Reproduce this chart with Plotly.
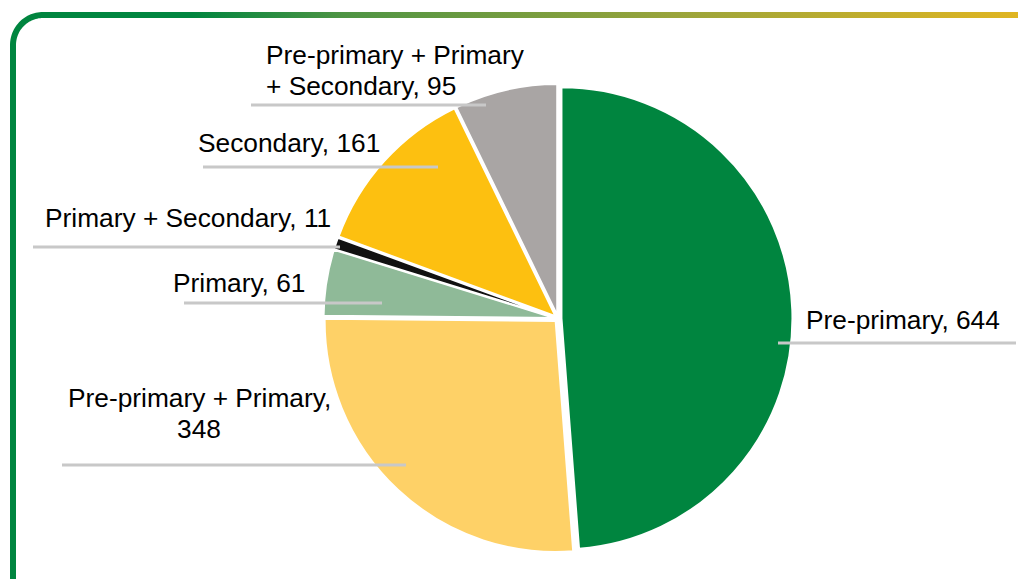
import textwrap
import numpy as np
import plotly.graph_objects as go

# Enrolment by level of education offered
categories = [
    "Pre-primary",
    "Pre-primary + Primary",
    "Primary",
    "Primary + Secondary",
    "Secondary",
    "Pre-primary + Primary + Secondary",
]
counts = [644, 348, 61, 11, 161, 95]
slice_colors = ["#00853F", "#FED167", "#8FBA98", "#111111", "#FDC010", "#A9A5A4"]

W, H = 1018, 579
CX, CY, R, PULL = 558, 318.5, 231, 0.015

# label placement in pixels: text x, first baseline, anchor, leader x0, leader x1, leader y
label_layout = [
    (806, 329, "left", 778, 1016, 343),
    (199, 407, "center", 62, 406, 465),
    (173, 292, "left", 184, 382, 303),
    (45, 227, "left", 33, 340, 247),
    (198, 152, "left", 203, 438, 167),
    (266, 64, "left", 251, 486, 105),
]
FONT = "Liberation Sans, Arial, sans-serif"
FSIZE = 26.3
LINE_PITCH = 31
WRAP_AT = 22

fig = go.Figure()

# rounded frame: left rule + top rule with a green-to-gold gradient
ro, ri = 33, 27
ccx, ccy = 43, 45
th = np.linspace(np.pi, 1.5 * np.pi, 30)
outer_x = [10] + list(ccx + ro * np.cos(th)) + [W + 2]
outer_y = [H + 5] + list(ccy + ro * np.sin(th)) + [12]
inner_x = [W + 2] + list(ccx + ri * np.cos(th[::-1])) + [16]
inner_y = [18] + list(ccy + ri * np.sin(th[::-1])) + [H + 5]
fig.add_trace(go.Scatter(
    x=outer_x + inner_x,
    y=outer_y + inner_y,
    mode="none",
    fill="toself",
    fillgradient=dict(
        type="horizontal",
        colorscale=[[0, "#00853F"], [0.18, "#00853F"], [0.33, "#4E9444"],
                    [0.66, "#9AA43B"], [1, "#E0B521"]],
    ),
    hoverinfo="skip",
    showlegend=False,
))

# pie
half = R * (1 + PULL)
fig.add_trace(go.Pie(
    labels=categories,
    values=counts,
    sort=False,
    direction="clockwise",
    rotation=0,
    pull=[PULL] * len(counts),
    marker=dict(colors=slice_colors, line=dict(color="white", width=2)),
    textinfo="none",
    hoverinfo="label+value",
    showlegend=False,
    domain=dict(
        x=[(CX - half) / W, (CX + half) / W],
        y=[(H - CY - half) / H, (H - CY + half) / H],
    ),
))

# data labels with leader lines
shapes, annotations = [], []
for cat, val, (tx, base, anchor, lx0, lx1, ly) in zip(categories, counts, label_layout):
    text = f"{cat}, {val}"
    if len(text) > WRAP_AT + 2:
        lines = textwrap.wrap(text, WRAP_AT, break_on_hyphens=False)
    else:
        lines = [text]
    for k, line in enumerate(lines):
        annotations.append(dict(
            x=tx, y=base + k * LINE_PITCH - 0.3465 * FSIZE,
            xref="x", yref="y", text=line, showarrow=False,
            xanchor=anchor, yanchor="middle", borderpad=0, borderwidth=0,
            font=dict(family=FONT, size=FSIZE, color="#000000"),
        ))
    shapes.append(dict(
        type="line", xref="x", yref="y", x0=lx0, x1=lx1, y0=ly, y1=ly,
        line=dict(color="#C8C8C8", width=3), layer="above",
    ))

fig.update_layout(
    width=W, height=H,
    margin=dict(l=0, r=0, t=0, b=0),
    paper_bgcolor="white", plot_bgcolor="white",
    xaxis=dict(range=[0, W], visible=False, fixedrange=True, domain=[0, 1]),
    yaxis=dict(range=[H, 0], visible=False, fixedrange=True, domain=[0, 1]),
    shapes=shapes,
    annotations=annotations,
)

fig.write_html("out.html")
